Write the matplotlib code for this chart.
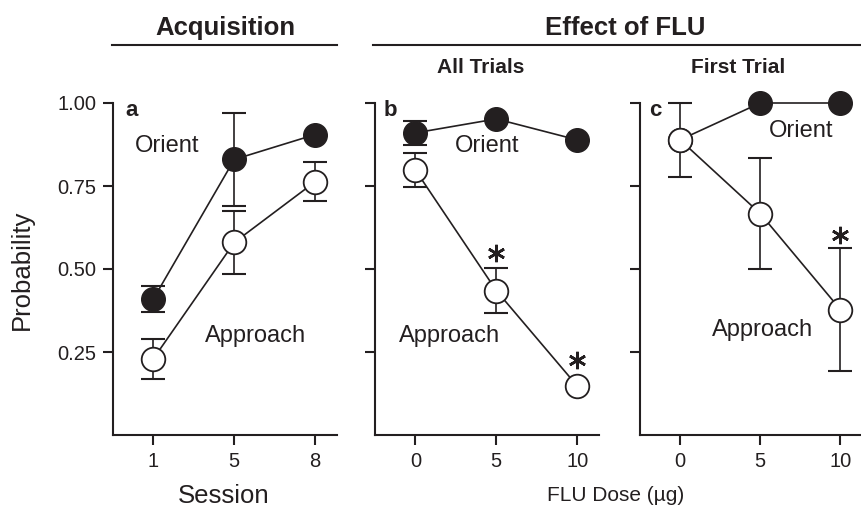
import numpy as np
import matplotlib
matplotlib.use('Agg')
import matplotlib.pyplot as plt
from matplotlib.lines import Line2D

plt.rcParams['font.family'] = ['Liberation Sans', 'DejaVu Sans']

INK = '#231f20'

# --- datos ---
sessions = ['1', '5', '8']
acq_orient = [0.41, 0.83, 0.905]
acq_orient_err = [0.04, 0.14, 0.0]
acq_approach = [0.23, 0.58, 0.763]
acq_approach_err = [0.06, 0.095, 0.058]

doses = ['0', '5', '10']
all_orient = [0.91, 0.952, 0.889]
all_orient_err = [0.037, 0.0, 0.0]
all_approach = [0.798, 0.435, 0.148]
all_approach_err = [0.052, 0.068, 0.0]

first_orient = [0.889, 1.0, 1.0]
first_orient_err = [0.0, 0.0, 0.0]
first_approach = [0.889, 0.667, 0.378]
first_approach_err = [0.111, 0.167, 0.185]

# asteriscos (indice de dosis, altura)
all_star_x = [1, 2]
all_star_y = [0.548, 0.226]
first_star_x = [2]
first_star_y = [0.602]

yticks = [0.25, 0.50, 0.75, 1.00]

fig = plt.figure(figsize=(8.61, 5.07), dpi=100)
W, H = 861, 507


def px_axes(left, right, top, bottom):
    return fig.add_axes([left / W, 1 - bottom / H, (right - left) / W, (bottom - top) / H])


ax_a = px_axes(113, 337, 103, 435)
ax_b = px_axes(375, 599, 103, 435)
ax_c = px_axes(640, 862, 103, 435)


def panel(ax, labels, orient, orient_err, approach, approach_err, letter):
    x = np.arange(len(labels))
    ax.errorbar(x, orient, yerr=orient_err, fmt='none', ecolor=INK, elinewidth=1.2,
                capsize=8.5, capthick=1.5, zorder=2, clip_on=False)
    ax.plot(x, orient, '-o', color=INK, lw=1.2, ms=17, mfc=INK, mec=INK,
            zorder=3, clip_on=False)
    ax.errorbar(x, approach, yerr=approach_err, fmt='none', ecolor=INK, elinewidth=1.2,
                capsize=8.5, capthick=1.5, zorder=4, clip_on=False)
    ax.plot(x, approach, '-o', color=INK, lw=1.2, ms=17, mfc='white', mec=INK,
            mew=1.3, zorder=5, clip_on=False)
    ax.set_xlim(-0.5, 2.27)
    ax.set_ylim(0, 1.0)
    ax.set_xticks(x)
    ax.set_xticklabels(labels)
    ax.set_yticks(yticks)
    for s in ['top', 'right']:
        ax.spines[s].set_visible(False)
    for s in ['left', 'bottom']:
        ax.spines[s].set_linewidth(1.5)
        ax.spines[s].set_color(INK)
    ax.tick_params(direction='out', length=7, width=1.5, color=INK,
                   labelsize=14.5, labelcolor=INK, pad=5)
    ax.text(0.04, 0.962, letter, transform=ax.transAxes, fontsize=16,
            fontweight='bold', color=INK, ha='left', va='baseline')


panel(ax_a, sessions, acq_orient, acq_orient_err, acq_approach, acq_approach_err, 'a')
panel(ax_b, doses, all_orient, all_orient_err, all_approach, all_approach_err, 'b')
panel(ax_c, doses, first_orient, first_orient_err, first_approach, first_approach_err, 'c')
ax_a.texts[-1].set_x(0.054)

ax_a.set_yticklabels(['0.25', '0.50', '0.75', '1.00'])
ax_b.set_yticklabels([])
ax_c.set_yticklabels([])

# asteriscos
ax_b.plot(all_star_x, all_star_y, ls='none', marker=(6, 2, 0), ms=12.5, mew=1.9,
          color=INK, clip_on=False, zorder=6)
ax_c.plot(first_star_x, first_star_y, ls='none', marker=(6, 2, 0), ms=12.5, mew=1.9,
          color=INK, clip_on=False, zorder=6)

# etiquetas de serie
lab = dict(fontsize=17, color=INK, ha='center', va='baseline')
ax_a.text(0.173, 0.852, 'Orient', **lab)
ax_a.text(1.265, 0.28, 'Approach', **lab)
ax_b.text(0.883, 0.852, 'Orient', **lab)
ax_b.text(0.42, 0.28, 'Approach', **lab)
ax_c.text(1.512, 0.898, 'Orient', **lab)
ax_c.text(1.03, 0.298, 'Approach', **lab)

# titulos y ejes
fig.text(225 / W, 1 - 35 / H, 'Acquisition', fontsize=18.5, fontweight='bold',
         color=INK, ha='center', va='baseline')
fig.text(625 / W, 1 - 35 / H, 'Effect of FLU', fontsize=18.5, fontweight='bold',
         color=INK, ha='center', va='baseline')
fig.add_artist(Line2D([112 / W, 337 / W], [1 - 45 / H, 1 - 45 / H], color=INK, lw=1.5))
fig.add_artist(Line2D([373 / W, 1.0], [1 - 45 / H, 1 - 45 / H], color=INK, lw=1.5))
fig.text(481 / W, 1 - 73 / H, 'All Trials', fontsize=15, fontweight='bold',
         color=INK, ha='center', va='baseline')
fig.text(738 / W, 1 - 73 / H, 'First Trial', fontsize=15, fontweight='bold',
         color=INK, ha='center', va='baseline')

fig.text(224 / W, 1 - 503 / H, 'Session', fontsize=18.5, color=INK,
         ha='center', va='baseline')
fig.text(616 / W, 1 - 501 / H, 'FLU Dose (µg)', fontsize=15, color=INK,
         ha='center', va='baseline')
fig.text(22 / W, 1 - 270 / H, 'Probability', fontsize=18.5, color=INK,
         ha='center', va='center', rotation=90)

fig.savefig('out.png', dpi=100)
